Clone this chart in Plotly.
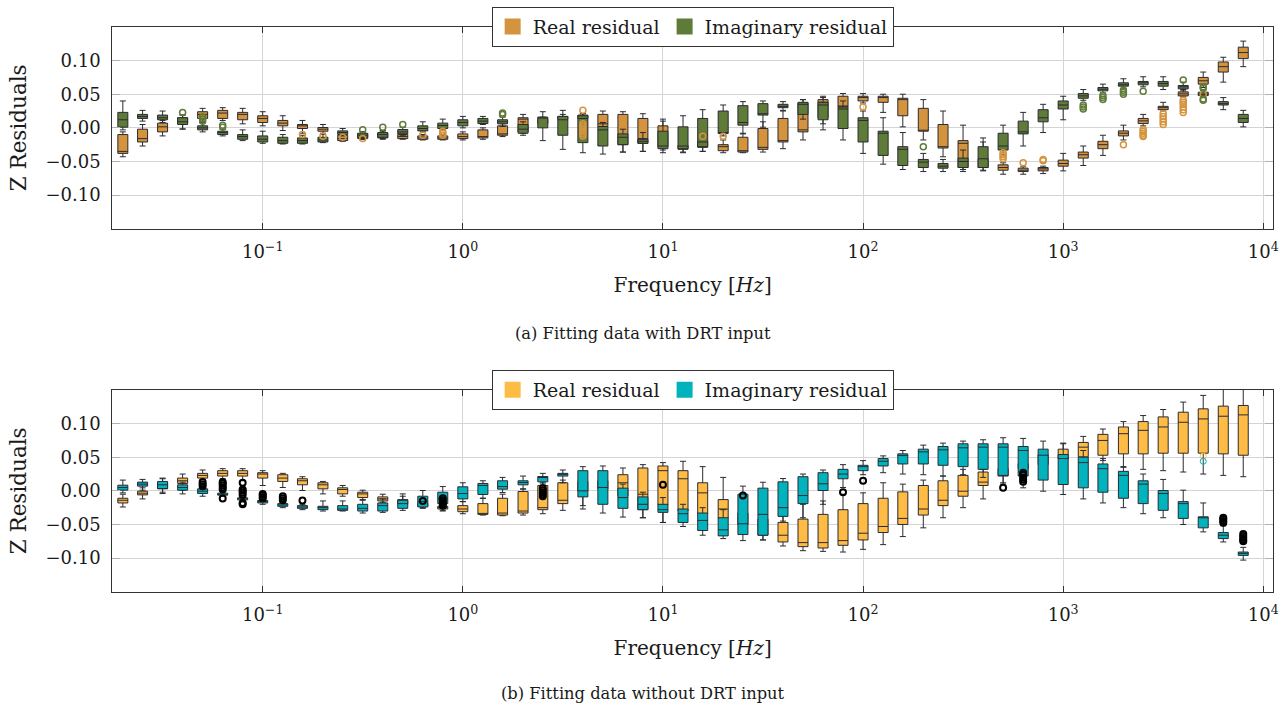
import numpy as np
import plotly.graph_objects as go

# ---------------- data ----------------
freq = [0.02, 0.0251, 0.0316, 0.0398, 0.0501, 0.0631, 0.0794,
        0.1, 0.126, 0.158, 0.2, 0.251, 0.316, 0.398, 0.501, 0.631, 0.794,
        1, 1.26, 1.58, 2.0, 2.51, 3.16, 3.98, 5.01, 6.31, 7.94,
        10, 12.6, 15.8, 20, 25.1, 31.6, 39.8, 50.1, 63.1, 79.4,
        100, 126, 158, 200, 251, 316, 398, 501, 631, 794,
        1000, 1260, 1580, 2000, 2510, 3160, 3980, 5010, 6310, 7940]

# values in units of 1e-3
# panel (a) real residual
a_re_lo = [-43, -27, -12, -2, 10, 11, 6, 3, -4, -8, -8, -20, -17, -17, -17, -18, -18, -18, -17, -13, -8, 3, 10, 10, -1,
           -36, -35, -33, -36, -35, -37, -37, -36, -31, -18, 6, 25, 37, 23, 1.5, -18, -43, -62, -63, -69, -69, -68,
           -64, -56, -41, -18, 3, 25, 46, 60, 68, 91]
a_re_q1 = [-38, -21, -6, 7, 14, 14, 12, 8, 3, -1, -5, -19, -16, -15, -16, -17, -17, -16, -15, -11, -6, 6, 13, 14, 2,
           -25, -23, -28, -32, -29, -34, -36, -32, -21, -6, 15, 31, 40, 38, 18, -5, -30, -59, -59, -63, -65, -64,
           -57, -45, -31, -12, 6.4, 27, 47.5, 65, 83, 103]
a_re_med = [-35, -16, 1.5, 11, 20, 22, 20, 14, 7, 3, -2, -16, -12, -12, -13, -15, -15, -13, -13, -9, 13, 9, 15, 17, 6,
            -10, -16, -12, -29, -23, -28, -34, -29, -19, -3, 38, 32, 45, 45, 42, -3.5, -28, -23, -53, -59, -63, -61,
            -53, -40, -25, -8, 10.4, 30, 50.5, 70, 91, 112]
a_re_q3 = [-10, -2, 7, 15, 24, 26, 23, 18, 11, 5, 0.5, -11, -9, -8, -10, -12, -12, -9, -3, 3, 15, 13, 17, 19, 20,
           20, 14, 3, -26, -20, -25, -14, -1, 14, 37, 42, 47, 47, 47, 44, 29, 5, -19, -46, -55, -60, -59,
           -48, -36, -20, -4.5, 14, 32, 53.5, 75, 98, 120]
a_re_hi = [-6, 5, 11, 19, 29, 30, 29, 24, 18, 11, 5, -9, -6, -5, -8, -10, -10, -6, 0, 6, 20, 16, 20, 21, 25,
           24, 21, 10, -20, -15, -18, -8, 9, 25, 42, 47, 51, 51, 50, 50, 42, 25, 4, -21, -52, -58, -57,
           -38, -27, -11, 4, 20, 38, 57, 83, 105, 129]
a_re_out_i = [9, 10, 11, 12, 15, 16, 16, 16, 23, 23, 23, 23, 23, 23, 23, 23, 29, 30, 37, 44, 44, 44, 44, 45, 46, 46,
              50, 51, 51, 51, 51, 51, 52, 52, 52, 52, 52, 53, 53, 53, 53, 53, 53, 54]
a_re_out_v = [-10, -12.5, -14, -16, -11, -5, -8, -11, 26, -12, -9, -6, -3, 0, 3, 6, -12.4, -12.4, 31, -37, -40, -43, -46,
              -52, -47, -49, -25, -2.5, -5, -8, -11, -13, 5, 9, 13, 17, 21, 23, 27, 31, 35, 38, 41, 49.5]

# panel (a) imaginary residual
a_im_lo = [-3, 10, 8, -1.5, -6, -12, -19, -23, -24, -24, -22, -12, -17, -16, -11, -6, -3, 0, 5, 2, -11, -19, -32, -37,
           -39, -36, -35, -37, -37, -35, -12, -9, 1, 26, 13, -3, -18, -38, -54, -62, -65, -65, -65, -64, -40, -27, -7,
           12, 41, 52, 59, 61, 57, 55, 45, 27, 1.5]
a_im_q1 = [1, 14, 12, 5, -3, -10, -17, -21, -23, -23, -21, -10, -14, -14, -9, -4.5, -1, 3, 6.4, 6, -8, 0, -11, -22,
           -27, -25, -23, -31, -31, -28, -8.5, 4, 19, 30, 20, 12, -1, -21, -41, -56, -59, -60, -59, -59, -33, -9, 9,
           28, 44, 55, 62, 64, 62, 58, 48, 34, 8]
a_im_med = [12, 17, 15, 9, 0, -7, -13, -17, -19, -19, -18, -7, -11, -10, -6, -1, 3.5, 8, 10, 9, -2, 15, 12, 14,
            -3, -14, -20, -27, -27, -21, -8, 8, 21, 32, 35, 34, 28, 11, -8, -32, -51, -57, -50, -46, -27, -6, 15,
            34, 47.5, 57.5, 64, 67, 66, 61, 50, 36, 14]
a_im_q3 = [23, 20, 19, 15, 3, -5, -10, -12, -14, -15, -14, -4.5, -8, -7, -2.5, 3, 7, 12, 14, 12, 5, 16, 17, 18,
           2, -9, -17, -5, 1.5, 14, 25, 33, 36, 35, 38, 38, 31, 15, -5, -28, -47, -53, -45, -28, -8, 10, 27,
           40, 51, 60, 67, 69, 69, 63, 53, 39, 20]
a_im_hi = [40, 26, 25, 19, 8, -2, -3, -5, -10, -11, -10, -1, -6, -4, 1, 9, 13, 17, 17, 16, 9, 24, 26, 21,
           8, -2, -7, 13, 18, 27, 34, 39, 40, 39, 42, 45, 40, 25, 15, -7, -38, -47, -33, -15, 4, 23, 35,
           47, 57, 65, 73, 76, 76, 68, 56, 45, 26]
a_im_out_i = [3, 4, 4, 4, 5, 5, 12, 13, 14, 19, 19, 40, 48, 48, 48, 49, 49, 49, 50, 50, 50, 51, 53, 54, 54, 54, 54]
a_im_out_v = [23, 10, 13, 16, 1, 4, -3, 1, 5, 20, 22, -28, 28, 31, 34, 42, 45, 48, 50, 53, 56, 54.5, 71, 41, 43, 59, 61]

# panel (b) real residual
b_re_lo = [-24, -12, -4, 1, 17, 18, 15, 8, 5, 0.5, -4.5, -8, -13, -17, -24, -26, -29, -34, -36, -37, -36, -34, -29,
           -22, -8, -15, -40, -47, -45, -45, -50, -60, -73, -82, -89, -90, -91, -87, -80, -68, -55, -40, -25, -12,
           12, 28, 29, 38, 40, 45, 35, 32, 30, 28, 25, 23, 21]
b_re_q1 = [-18, -6, 3, 11, 19, 22, 22, 19, 14, 9, 3, -4.5, -10, -15, -20, -23, -27, -31, -35, -36, -33, -28, -19,
           0, 2.5, -8, -28, -21, -30, -34, -41, -50, -66, -76, -83, -85, -81, -73, -62, -50, -36, -22, -8, 8,
           22, 33, 39, 47.5, 50.5, 53, 55, 55, 56, 56, 56, 55, 53]
b_re_med = [-14, -3.5, 8, 15, 23, 26, 26, 25, 19, 15, 9, 2, -4.5, -12, -16, -21, -25, -27, -34, -33, -30, -25, -14,
            9, 10, 12, -5, 30, 18, -3, -27, -46, -53, -66, -77, -77, -74, -63, -53, -41, -27, -14, -0.5, 13,
            26, 37.5, 45.5, 54, 65, 75, 85, 90, 95, 102, 107, 111, 113]
b_re_q3 = [-11, -0.5, 12, 19, 26, 30, 30, 27, 24, 18, 12, 4.5, -2, -9, -13, -18, -23, -22, -19, -11, -1, 8, 12,
           14, 15, 24, 34, 37, 30, 12, -13, -33, -42, -47, -42, -35, -28, -19, -11, -1.5, 8, 15, 23, 28,
           33, 40.6, 54, 62, 72, 84, 95, 103, 110, 117, 122, 126, 127]
b_re_hi = [-5, 4.5, 19, 25, 31, 33, 33, 30, 26, 21, 14, 8, 1, -5, -8, -15, -20, -16, -11, -5, 3, 12, 16,
           28, 22, 34, 39, 42, 44, 36, 20, -20, -28, -30, -20, -15, -5, -3, 12, 10, 16, 22, 32, 32,
           38, 45, 58, 70, 81, 92, 103, 112, 121, 132, 142, 152, 152]
b_re_out_i = [54]
b_re_out_v = [51.5]

# panel (b) imaginary residual
b_im_lo = [-3, 1, -2, -4.5, -8, -8, -16, -20, -25, -28, -30, -30, -33, -32, -29, -25, -30, -16, -11, -2.5, 2.5, 10, 12,
           -27, -33, -39, -40, -47, -53, -66, -71, -74, -73, -45, -40, -20, 5, 24, 27, 25, 24, 22, 24, 20, 10, 4.5,
           -0.5, -5.4, -12, -18, -25, -34, -40, -50, -61, -76, -103]
b_im_q1 = [1, 7, 3.5, 1, -4, -6.4, -13.4, -18, -23, -26, -28, -29, -30, -30, -26, -24, -19, -12, -5.4, 2.5, 9, 13.4, 22,
           -9, -20, -26, -28, -32, -47, -59, -67, -65, -66, -38, -19, 0.5, 18, 30, 37, 40, 40, 38, 36, 32, 23, 22,
           16, 9.4, 4.5, -2, -11, -19, -29, -41, -55, -71, -96]
b_im_med = [5, 10, 9, 5, -0.5, -5, -12, -16, -21, -24, -25, -27, -26, -22, -19, -16, -12, -4, 8, 6.4, 12.4, 19.8, 25,
            0, 5, -10, -20, -28, -34, -44, -58, -49, -35, -25, -7, 10.5, 25, 36, 44, 52.5, 58, 61, 64, 65, 65, 60,
            53, 48, 42, 33, 23, 10, -4, -19, -40, -66, -93]
b_im_q3 = [8.4, 13, 14, 9, 3, -3.5, -10.4, -14.4, -19, -22, -23, -22, -20, -18, -14, -8, -2, 6, 11, 15, 15, 21.3, 26,
           30, 30, 4, -9, -20, -27, -33, -40, -5, 4, 13.4, 21, 27, 32, 38, 48, 55, 62, 66, 70, 70, 70, 66,
           62, 54, 50, 40, 29, 15, 0.5, -16, -38.6, -62, -91]
b_im_hi = [16, 17, 18, 13, 7, -1, -8, -13, -17, -20, -15, -15, -14, -12, -4.5, 0.5, 6.4, 12, 15, 20, 22, 26, 31,
           36, 37, 10, -2, -10, -20, -25, -28, 7, 12.8, 18.3, 25, 31, 39, 45, 52, 60, 68, 71, 74, 76, 79, 78,
           74, 71, 60, 48, 36, 25, 17, 1, -18, -52, -84]
b_im_out_i = [54]
b_im_out_v = [44]

# black outliers in panel (b)
b_out_i = [4, 4, 4, 5, 5, 5, 5, 5, 5, 6, 6, 6, 6, 6, 6, 6, 7, 7, 7, 7, 8, 8, 8, 9, 15, 16, 16, 16, 16, 16,
           21, 21, 21, 21, 21, 27, 31, 36, 37, 44, 45, 45, 45, 45, 45, 55, 55, 55, 55, 56, 56, 56, 56, 56]
b_out_v = [7, 10, 13, -11.4, 2, 5, 8, 11, 13, -20, -18, -6, -3, 0, 2, 12, -11, -9, -6, -4.5, -14, -11, -8, -14.4,
           -15, -11, -14, -17, -20, -22, -8, -5, -2, 1, 4, 9, -7, -2, 15, 4.5, 13.4, 17, 20, 24, 27,
           -40, -42, -45, -47.5, -64, -67, -70, -73, -75]

decade_vals = [-1, 0, 1, 2, 3, 4]
decade_text = ["10<sup>\u22121</sup>", "10<sup>0</sup>", "10<sup>1</sup>", "10<sup>2</sup>",
               "10<sup>3</sup>", "10<sup>4</sup>"]
ytick_vals = [-0.10, -0.05, 0.0, 0.05, 0.10]
ytick_text = ["\u22120.10", "\u22120.05", "0.00", "0.05", "0.10"]

# ---------------- styling ----------------
A_RE, A_IM = "#D4943D", "#5F7B38"
B_RE, B_IM = "#FFBC45", "#00B3BD"
EDGE = "#2a2a33"
FONT = "DejaVu Serif"
TXT = "#1a1a1a"

logf = np.log10(np.array(freq))


def m(a):
    return np.array(a, dtype=float) / 1000.0


fig = go.Figure()


def add_boxes(xa, ya, lo, q1, med, q3, hi, color):
    fig.add_trace(go.Box(
        x=logf, lowerfence=m(lo), q1=m(q1), median=m(med), q3=m(q3), upperfence=m(hi),
        orientation="v", boxpoints=False, width=0.05, whiskerwidth=0.6,
        fillcolor=color, line=dict(color=EDGE, width=1),
        xaxis=xa, yaxis=ya, showlegend=False, hoverinfo="skip"))


def add_outliers(xa, ya, idx, vals, color, lw=1.5):
    fig.add_trace(go.Scatter(
        x=logf[np.array(idx, dtype=int)], y=m(vals), mode="markers",
        marker=dict(symbol="circle-open", size=6, color=color, line=dict(width=lw, color=color)),
        xaxis=xa, yaxis=ya, showlegend=False, hoverinfo="skip"))


def add_legend_item(xa, ya, name, color, legend):
    fig.add_trace(go.Scatter(
        x=[None], y=[None], mode="markers", name=name,
        marker=dict(symbol="square", size=16, color=color),
        xaxis=xa, yaxis=ya, legend=legend, showlegend=True))


# panel (a)
add_boxes("x", "y", a_re_lo, a_re_q1, a_re_med, a_re_q3, a_re_hi, A_RE)
add_boxes("x", "y", a_im_lo, a_im_q1, a_im_med, a_im_q3, a_im_hi, A_IM)
add_outliers("x", "y", a_re_out_i, a_re_out_v, A_RE)
add_outliers("x", "y", a_im_out_i, a_im_out_v, A_IM)
add_legend_item("x", "y", "Real residual", A_RE, "legend")
add_legend_item("x", "y", "Imaginary residual", A_IM, "legend")

# panel (b)
add_boxes("x2", "y2", b_re_lo, b_re_q1, b_re_med, b_re_q3, b_re_hi, B_RE)
add_boxes("x2", "y2", b_im_lo, b_im_q1, b_im_med, b_im_q3, b_im_hi, B_IM)
add_outliers("x2", "y2", b_re_out_i, b_re_out_v, B_RE, 1)
add_outliers("x2", "y2", b_im_out_i, b_im_out_v, B_IM, 1)
add_outliers("x2", "y2", b_out_i, b_out_v, "#000000", 2)
add_legend_item("x2", "y2", "Real residual", B_RE, "legend2")
add_legend_item("x2", "y2", "Imaginary residual", B_IM, "legend2")

W, H = 1286, 708
XL, XR = 112.3, 1273
xdom = [XL / W, XR / W]


def ydom(top, bot):
    return [1 - bot / H, 1 - top / H]


xaxis_common = dict(
    domain=xdom, range=[-1.7516, 4.0485], tickmode="array", tickvals=decade_vals, ticktext=decade_text,
    showgrid=True, gridcolor="#d4d4d4", gridwidth=1, zeroline=False,
    ticks="inside", ticklen=6, tickwidth=1.2, tickcolor="#333",
    showline=True, linecolor="#333", linewidth=1.2, mirror="ticks",
    tickfont=dict(family=FONT, size=18, color=TXT), ticklabelstandoff=7, automargin=False,
    title=dict(text="Frequency [<i>Hz</i>]", font=dict(family=FONT, size=20, color=TXT), standoff=16),
)
yaxis_common = dict(
    range=[-0.15, 0.15], tickmode="array", tickvals=ytick_vals, ticktext=ytick_text,
    showgrid=True, gridcolor="#d4d4d4", gridwidth=1, zeroline=False,
    ticks="inside", ticklen=8, tickwidth=1.2, tickcolor="#b0b0b0",
    showline=True, linecolor="#333", linewidth=1.2, mirror="ticks",
    tickfont=dict(family=FONT, size=18, color=TXT), ticklabelstandoff=7, automargin=False,
    title=dict(text="Z Residuals", font=dict(family=FONT, size=21.5, color=TXT), standoff=12),
)

legend_common = dict(
    orientation="h", xanchor="center", yanchor="top", x=(XL + XR) / 2 / W, bgcolor="white",
    bordercolor="#333", borderwidth=1, font=dict(family=FONT, size=19, color=TXT),
    itemclick=False, itemdoubleclick=False,
)

fig.update_layout(
    template="none", width=W, height=H, margin=dict(l=0, r=0, t=0, b=0),
    paper_bgcolor="white", plot_bgcolor="white", boxmode="overlay",
    xaxis=dict(anchor="y", **xaxis_common),
    yaxis=dict(anchor="x", domain=ydom(27, 228.7), **yaxis_common),
    xaxis2=dict(anchor="y2", **xaxis_common),
    yaxis2=dict(anchor="x2", domain=ydom(390, 591.7), **yaxis_common),
    legend=dict(y=1 - 6.7 / H, **legend_common),
    legend2=dict(y=1 - 370 / H, **legend_common),
    annotations=[
        dict(text="(a) Fitting data with DRT input", x=0.5, y=1 - 333 / H, xref="paper", yref="paper",
             showarrow=False, xanchor="center", yanchor="middle", font=dict(family=FONT, size=16.3, color=TXT)),
        dict(text="(b) Fitting data without DRT input", x=0.5, y=1 - 693 / H, xref="paper", yref="paper",
             showarrow=False, xanchor="center", yanchor="middle", font=dict(family=FONT, size=16.3, color=TXT)),
    ],
)

fig.write_html("out.html")
